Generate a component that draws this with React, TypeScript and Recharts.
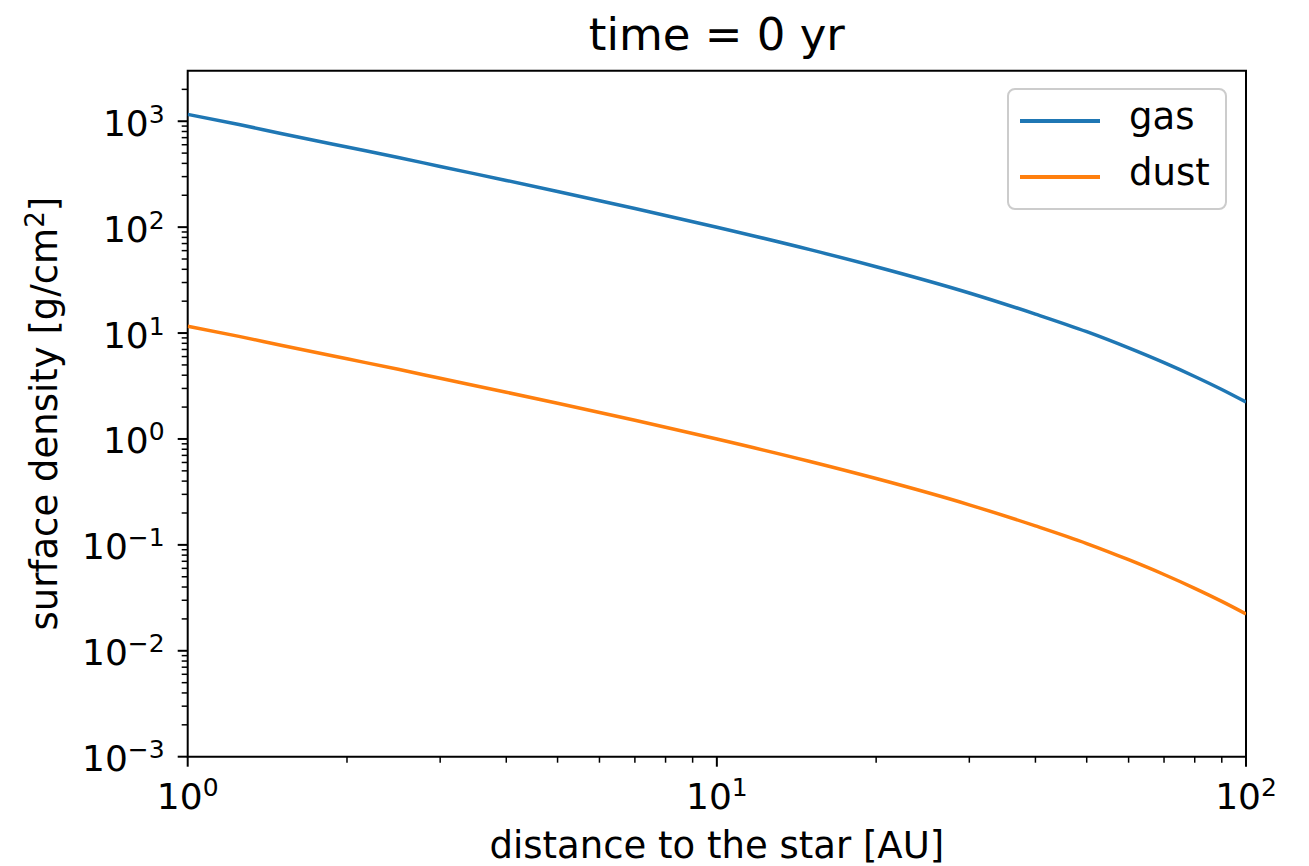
import React from "react";
import { LineChart, Line, XAxis, YAxis, ReferenceArea, Legend, Label } from "recharts";

// radius in AU, surface density in g/cm^2
const radius = [1, 1.25, 1.5, 2, 2.5, 3, 4, 5, 7, 10, 15, 20, 30, 40, 50, 60, 70, 80, 90, 100];
const gasDensity = [1160, 930, 767, 571, 455, 374, 276, 217, 150, 99.9, 61.3, 42.3, 23.9, 15.1, 10.3, 7.24, 5.25, 3.89, 2.93, 2.23];
const dustDensity = [11.6, 9.3, 7.67, 5.71, 4.55, 3.74, 2.76, 2.17, 1.5, 0.999, 0.613, 0.423, 0.239, 0.151, 0.103, 0.0724, 0.0525, 0.0389, 0.0293, 0.0223];

const xTicks = [1, 2, 3, 4, 5, 6, 7, 8, 9, 10, 20, 30, 40, 50, 60, 70, 80, 90, 100];
const yMajorTicks = [0.001, 0.01, 0.1, 1, 10, 100, 1000];
const minorSteps = [2, 3, 4, 5, 6, 7, 8, 9];
const yTicks = [
  ...yMajorTicks.flatMap((m) => [m, ...minorSteps.map((s) => m * s)]).filter((v) => v < 3000),
];

const data = radius.map((r, i) => ({ r, gas: gasDensity[i], dust: dustDensity[i] }));

const FONT = "'DejaVu Sans', sans-serif";
const BLUE = "#1f77b4";
const ORANGE = "#ff7f0e";

const isMajor = (v: number) => {
  const l = Math.log10(v);
  return Math.abs(l - Math.round(l)) < 1e-6;
};
const expLabel = (v: number) => {
  const e = Math.round(Math.log10(v));
  return e < 0 ? `\u2212${-e}` : `${e}`;
};

const XTick = (props: any) => {
  const { x, y, payload } = props;
  const v = payload.value;
  const major = isMajor(v);
  return (
    <g>
      <line x1={x} x2={x} y1={y} y2={y + (major ? 10 : 6)} stroke="#000" strokeWidth={major ? 2 : 1.5} />
      {major && (
        <text x={x} y={y + 52} textAnchor="middle" fontSize={36} fontFamily={FONT} fill="#000">
          10<tspan dy={-12.5} fontSize={25}>{expLabel(v)}</tspan>
        </text>
      )}
    </g>
  );
};

const YTick = (props: any) => {
  const { x, y, payload } = props;
  const v = payload.value;
  const major = isMajor(v);
  return (
    <g>
      <line x1={x} x2={x - (major ? 10 : 6)} y1={y} y2={y} stroke="#000" strokeWidth={major ? 2 : 1.5} />
      {major && (
        <text x={x - 23} y={y + 14.5} textAnchor="end" fontSize={36} fontFamily={FONT} fill="#000">
          10<tspan dy={-13} fontSize={25}>{expLabel(v)}</tspan>
        </text>
      )}
    </g>
  );
};

const LegendBox = () => (
  <div
    style={{
      width: 216,
      height: 118,
      border: "2px solid #cccccc",
      borderRadius: 8,
      background: "rgba(255,255,255,0.8)",
      position: "relative",
      fontFamily: FONT,
      fontSize: 37,
      color: "#000",
    }}
  >
    {[
      { name: "gas", color: BLUE, top: 29 },
      { name: "dust", color: ORANGE, top: 85 },
    ].map((it) => (
      <React.Fragment key={it.name}>
        <div style={{ position: "absolute", left: 11, top: it.top, width: 80, height: 4, background: it.color }} />
        <div style={{ position: "absolute", left: 120, top: it.top - 26, lineHeight: "48px" }}>{it.name}</div>
      </React.Fragment>
    ))}
  </div>
);

export default function App() {
  return (
    <div style={{ position: "absolute", left: 0, top: 0, width: 1309, height: 866, background: "#fff" }}>
      <div
        style={{
          position: "absolute",
          left: 187.7,
          width: 1058.3,
          top: 0,
          textAlign: "center",
          fontFamily: FONT,
          fontSize: 45,
          lineHeight: "70px",
          color: "#000",
        }}
      >
        time = 0 yr
      </div>
      <LineChart width={1309} height={866} data={data} margin={{ top: 70.7, right: 63, bottom: 0, left: 0 }}>
        <XAxis
          dataKey="r"
          type="number"
          scale="log"
          domain={[1, 100]}
          ticks={xTicks}
          interval={0}
          tick={<XTick />}
          tickLine={false}
          axisLine={false}
          tickSize={0}
          tickMargin={0}
          height={109.3}
          allowDataOverflow
        >
          <Label
            content={(p: any) => {
              const vb = p.viewBox;
              return (
                <text x={vb.x + vb.width / 2} y={858} textAnchor="middle" fontSize={37} fontFamily={FONT} fill="#000">
                  distance to the star [AU]
                </text>
              );
            }}
          />
        </XAxis>
        <YAxis
          type="number"
          scale="log"
          domain={[0.001, 3000]}
          ticks={yTicks}
          interval={0}
          tick={<YTick />}
          tickLine={false}
          axisLine={false}
          tickSize={0}
          tickMargin={0}
          width={187.7}
          allowDataOverflow
        >
          <Label
            content={(p: any) => {
              const vb = p.viewBox;
              const cy = vb.y + vb.height / 2;
              return (
                <text
                  x={57}
                  y={cy}
                  transform={`rotate(-90, 57, ${cy})`}
                  textAnchor="middle"
                  fontSize={37}
                  fontFamily={FONT}
                  fill="#000"
                >
                  surface density [g/cm<tspan dy={-13} fontSize={26}>2</tspan>
                  <tspan dy={13}>]</tspan>
                </text>
              );
            }}
          />
        </YAxis>
        <Line type="monotone" dataKey="gas" name="gas" stroke={BLUE} strokeWidth={3.5} dot={false} isAnimationActive={false} />
        <Line type="monotone" dataKey="dust" name="dust" stroke={ORANGE} strokeWidth={3.5} dot={false} isAnimationActive={false} />
        <ReferenceArea x1={1} x2={100} y1={0.001} y2={3000} fill="none" stroke="#000" strokeWidth={2} fillOpacity={0} />
        <Legend
          layout="vertical"
          align="center"
          verticalAlign="middle"
          content={<LegendBox />}
          wrapperStyle={{ left: 1007, top: 88, width: 220, height: 122 }}
        />
      </LineChart>
    </div>
  );
}
